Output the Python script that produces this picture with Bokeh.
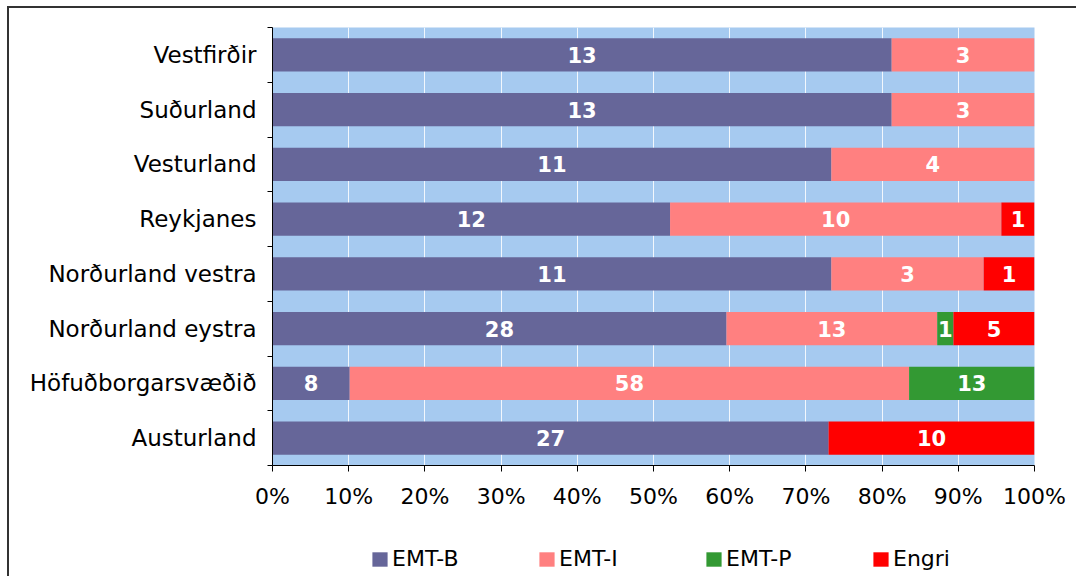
from bokeh.plotting import figure
from bokeh.layouts import column
from bokeh.models import (FixedTicker, NumeralTickFormatter, Legend, LegendItem,
                          ColumnDataSource, Range1d)
from bokeh.embed import file_html
from bokeh.resources import INLINE
from bokeh.core.properties import value

# ---- data ----
regions = ["Vestfirðir", "Suðurland", "Vesturland", "Reykjanes",
           "Norðurland vestra", "Norðurland eystra", "Höfuðborgarsvæðið", "Austurland"]
emt_b = [13, 13, 11, 12, 11, 28, 8, 27]
emt_i = [3, 3, 4, 10, 3, 13, 58, 0]
emt_p = [0, 0, 0, 0, 0, 1, 13, 0]
engri = [0, 0, 0, 1, 1, 5, 0, 10]
series_names = ["EMT-B", "EMT-I", "EMT-P", "Engri"]
series_colors = ["#666699", "#FF8080", "#339933", "#FF0000"]
x_tick_values = [0.0, 0.1, 0.2, 0.3, 0.4, 0.5, 0.6, 0.7, 0.8, 0.9, 1.0]

FONT = "DejaVu Sans"
n = len(regions)
series = [emt_b, emt_i, emt_p, engri]
totals = [sum(s[i] for s in series) for i in range(n)]
ypos = [n - i - 0.5 for i in range(n)]

data = {"y": ypos}
for name, s in zip(series_names, series):
    data[name] = [v / t for v, t in zip(s, totals)]
src = ColumnDataSource(data)

p = figure(width=1067, height=522, output_backend="svg", toolbar_location=None,
           x_range=Range1d(0, 1), y_range=Range1d(0, n),
           min_border_left=263, min_border_right=42, min_border_top=19,
           min_border_bottom=65)
p.outline_line_color = None
p.background_fill_color = "#A6CAF0"
p.border_fill_color = "white"

renderers = p.hbar_stack(series_names, y="y", height=0.61, color=series_colors,
                         line_color=None, source=src)

# bar value labels
lx, ly, lt = [], [], []
for i in range(n):
    left = 0.0
    for s in series:
        frac = s[i] / totals[i]
        if s[i] > 0:
            lx.append(left + frac / 2)
            ly.append(ypos[i])
            lt.append(str(s[i]))
        left += frac
p.text(x=lx, y=ly, text=lt, text_color="white", text_font=value(FONT),
       text_font_size="21px", text_font_style="bold", text_align="center",
       text_baseline="middle")

# x axis
p.xaxis.ticker = FixedTicker(ticks=x_tick_values)
p.xaxis.formatter = NumeralTickFormatter(format="0%")
p.xaxis.major_tick_in = 0
p.xaxis.major_tick_out = 6
p.xaxis.minor_tick_line_color = None
p.xaxis.major_label_standoff = 12
p.xaxis.major_label_text_font = FONT
p.xaxis.major_label_text_font_size = "22px"
p.xaxis.major_label_text_color = "black"
p.xaxis.axis_line_color = "black"
p.xaxis.major_tick_line_color = "black"

# y axis: labels at centres, ticks at band boundaries
p.yaxis.ticker = FixedTicker(ticks=ypos, minor_ticks=list(range(n + 1)))
p.yaxis.major_label_overrides = {y: r for y, r in zip(ypos, regions)}
p.yaxis.major_tick_in = 0
p.yaxis.major_tick_out = 0
p.yaxis.minor_tick_in = 0
p.yaxis.minor_tick_out = 5
p.yaxis.minor_tick_line_color = "black"
p.yaxis.major_label_standoff = 11
p.yaxis.major_label_text_font = FONT
p.yaxis.major_label_text_font_size = "23px"
p.yaxis.major_label_text_color = "black"
p.yaxis.axis_line_color = "black"

# grid
p.xgrid.ticker = FixedTicker(ticks=x_tick_values)
p.xgrid.grid_line_color = "white"
p.xgrid.grid_line_alpha = 0.85
p.xgrid.grid_line_width = 1
p.ygrid.grid_line_color = None

# ---- legend strip (separate small figure below the chart) ----
lg = figure(width=1067, height=46, output_backend="svg", toolbar_location=None,
            x_range=Range1d(0, 1), y_range=Range1d(100, 101),
            min_border_left=263, min_border_right=42, min_border_top=0, min_border_bottom=0)
lg.axis.visible = False
lg.grid.visible = False
lg.outline_line_color = None
lg.background_fill_color = "white"
lg.border_fill_color = "white"
# same stacked series drawn out of view, used only as legend swatches
leg_renderers = lg.hbar_stack(series_names, y="y", height=0.61, color=series_colors,
                              line_color=None, source=src)
legend = Legend(items=[LegendItem(label=nm, renderers=[r]) for nm, r in zip(series_names, leg_renderers)],
                orientation="horizontal", location=(98, 5),
                glyph_width=19, glyph_height=18, label_standoff=3, spacing=0,
                label_width=145, padding=0, margin=0,
                border_line_color=None, background_fill_alpha=0,
                label_text_font=FONT, label_text_font_size="22px",
                label_text_color="black")
lg.add_layout(legend)

layout = column(p, lg, spacing=0)
layout.styles = {"margin-left": "7px", "margin-top": "6px",
                 "border-left": "2px solid #333333", "border-top": "2px solid #333333"}

open("out.html", "w").write(file_html(layout, INLINE))
